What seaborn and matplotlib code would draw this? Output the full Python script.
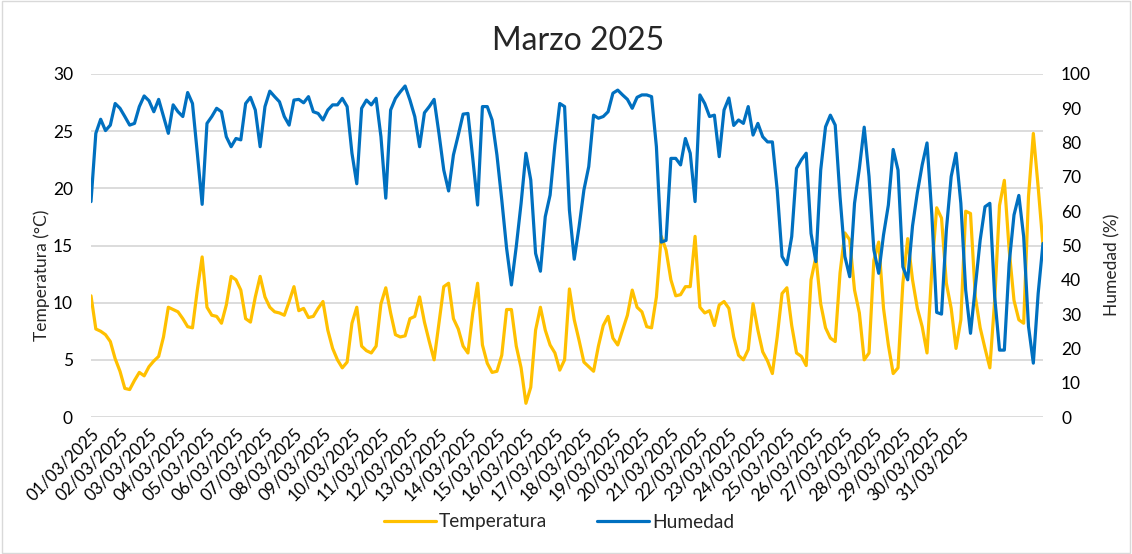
import numpy as np
import pandas as pd
import matplotlib
matplotlib.use("Agg")
import matplotlib.pyplot as plt
import seaborn as sns
from matplotlib.patches import Rectangle

# one label per day, 6 readings between labels
dias = ["%02d/03/2025" % d for d in range(1, 32)]
puntos_por_dia = 6

temperatura = [
    10.6, 7.7, 7.5, 7.2, 6.6, 5.1, 4.0, 2.5, 2.4, 3.2, 3.9, 3.6, 4.4, 4.9, 5.3, 7.0,
    9.6, 9.4, 9.2, 8.6, 7.9, 7.8, 11.1, 14.0, 9.6, 8.9, 8.8, 8.2, 9.8, 12.3, 12.0, 11.1,
    8.6, 8.3, 10.5, 12.3, 10.5, 9.6, 9.2, 9.1, 8.9, 10.1, 11.4, 9.3, 9.5, 8.7, 8.8, 9.5,
    10.1, 7.6, 6.0, 5.0, 4.3, 4.8, 8.2, 9.6, 6.2, 5.8, 5.6, 6.2, 9.9, 11.3, 9.1, 7.2,
    7.0, 7.1, 8.6, 8.8, 10.5, 8.3, 6.6, 5.0, 8.2, 11.4, 11.7, 8.6, 7.7, 6.2, 5.6, 9.1,
    11.7, 6.3, 4.7, 3.9, 4.0, 5.4, 9.4, 9.4, 6.2, 4.3, 1.2, 2.6, 7.6, 9.6, 7.6, 6.3,
    5.6, 4.1, 5.0, 11.2, 8.5, 6.7, 4.8, 4.4, 4.0, 6.2, 8.0, 8.8, 6.9, 6.3, 7.6, 8.9,
    11.1, 9.6, 9.2, 7.9, 7.8, 10.5, 15.8, 14.6, 12.0, 10.6, 10.7, 11.4, 11.4, 15.8, 9.6, 9.1,
    9.3, 8.0, 9.8, 10.1, 9.5, 7.0, 5.4, 5.0, 5.9, 9.9, 7.6, 5.7, 4.9, 3.8, 7.0, 10.8,
    11.3, 8.0, 5.6, 5.3, 4.5, 12.0, 14.0, 9.9, 7.8, 6.9, 6.6, 12.6, 16.1, 15.5, 11.1, 9.1,
    5.0, 5.6, 13.7, 15.3, 9.5, 6.3, 3.8, 4.3, 11.7, 15.6, 12.0, 9.5, 7.9, 5.6, 12.9, 18.3,
    17.4, 11.7, 9.5, 6.0, 8.5, 18.0, 17.8, 10.5, 7.8, 6.0, 4.3, 10.2, 18.5, 20.7, 14.6, 10.2,
    8.5, 8.2, 19.3, 24.8, 20.1, 15.0,
]

humedad = [
    62.8, 82.7, 86.8, 83.5, 85.1, 91.4, 90.0, 87.6, 85.1, 85.6, 90.5, 93.6, 92.2, 89.0, 92.6, 87.6,
    82.7, 91.0, 89.0, 87.6, 94.6, 91.4, 76.9, 62.0, 85.6, 87.6, 90.0, 89.0, 81.7, 78.8, 81.2, 80.8,
    91.4, 93.2, 89.5, 78.8, 90.5, 95.0, 93.4, 91.9, 87.6, 85.1, 92.4, 92.6, 91.6, 93.4, 89.0, 88.5,
    86.6, 89.5, 91.0, 91.0, 92.9, 90.5, 76.9, 68.0, 90.0, 92.4, 91.0, 92.9, 81.7, 63.8, 89.5, 92.9,
    94.8, 96.5, 92.4, 87.6, 78.8, 88.7, 90.5, 92.6, 82.7, 72.0, 65.9, 76.4, 82.2, 88.3, 88.5, 75.4,
    61.8, 90.5, 90.5, 86.6, 76.4, 63.3, 49.2, 38.5, 49.7, 62.3, 76.9, 69.1, 47.7, 42.5, 58.4, 64.7,
    79.3, 91.4, 90.5, 60.3, 46.0, 55.5, 66.2, 73.0, 88.0, 87.1, 87.6, 89.0, 94.4, 95.3, 93.9, 92.6,
    90.0, 93.2, 93.9, 93.9, 93.4, 78.8, 51.0, 51.5, 75.4, 75.4, 73.5, 81.2, 76.9, 62.8, 93.9, 91.4,
    87.6, 88.0, 75.9, 89.5, 93.0, 85.0, 86.6, 85.6, 90.5, 82.2, 85.6, 81.7, 80.2, 80.2, 66.2, 46.8,
    44.4, 52.6, 72.5, 75.0, 76.9, 53.5, 45.3, 72.0, 84.6, 88.0, 85.1, 64.2, 46.8, 40.9, 62.3, 72.5,
    84.5, 70.1, 48.7, 41.9, 53.1, 61.8, 78.0, 72.0, 43.8, 40.0, 55.7, 65.4, 73.5, 79.9, 58.9, 30.5,
    30.0, 54.5, 70.1, 76.9, 62.3, 37.0, 24.4, 38.0, 51.6, 61.3, 62.3, 35.1, 19.5, 19.5, 44.8, 58.9,
    64.6, 52.6, 26.4, 15.7, 36.0, 50.6,
]

df = pd.DataFrame({
    "punto": np.arange(len(temperatura)),
    "Temperatura": temperatura,
    "Humedad": humedad,
})

sns.set_theme(style="white")
plt.rcParams["font.family"] = ["Lato", "DejaVu Sans"]

amarillo = "#FFC000"
azul = "#0070C0"
gris = "#d9d9d9"

fig = plt.figure(figsize=(11.32, 5.54), dpi=100)
ax = fig.add_axes([91 / 1132, 1 - 417 / 554, (1043 - 91) / 1132, (417 - 74) / 554])
ax2 = ax.twinx()

sns.lineplot(data=df, x="punto", y="Temperatura", ax=ax, color=amarillo,
             linewidth=2.3, label="Temperatura", legend=False)
sns.lineplot(data=df, x="punto", y="Humedad", ax=ax2, color=azul,
             linewidth=2.3, label="Humedad", legend=False)

ax.set_xlim(0, len(temperatura) - 1)
ax.set_ylim(0, 30)
ax.set_yticks(range(0, 31, 5))
ax2.set_ylim(0, 100)
ax2.set_yticks(range(0, 101, 10))

ax.set_xticks(np.arange(len(dias)) * puntos_por_dia)
ax.set_xticklabels(dias, rotation=45, ha="right", rotation_mode="anchor")

ax.yaxis.grid(True, color=gris, linewidth=1.3)
ax.xaxis.grid(False)
ax.set_axisbelow(True)
ax2.grid(False)
for a in (ax, ax2):
    for s in a.spines.values():
        s.set_visible(False)
    a.set_xlabel("")
    a.set_ylabel("")
ax.tick_params(axis="y", length=0, pad=13, labelsize=12.5, colors="#000000")
ax.tick_params(axis="x", length=0, pad=6, labelsize=12.3, colors="#000000")
ax2.tick_params(axis="y", length=0, pad=13, labelsize=12.5, colors="#000000")

fig.text(0.5106, 1 - 41 / 554, "Marzo 2025", ha="center", va="center", fontsize=23)
fig.text(42 / 1132, 1 - 275 / 554, "Temperatura (°C)", rotation=90,
         ha="center", va="center", fontsize=12.5)
fig.text(1112 / 1132, 1 - 265 / 554, "Humedad (%)", rotation=90,
         ha="center", va="center", fontsize=12.5)

lineas = ax.get_lines() + ax2.get_lines()
fig.legend(lineas, [l.get_label() for l in lineas], loc="center",
           bbox_to_anchor=(0.494, 1 - 522 / 554), ncol=2, frameon=False,
           fontsize=13.8, handlelength=2.7, handletextpad=0.15, columnspacing=2.6)

fig.patches.append(Rectangle((0.002, 0.002), 0.996, 0.996, transform=fig.transFigure,
                             fill=False, edgecolor=gris, linewidth=1))

fig.savefig("out.png", dpi=100, facecolor="white")
